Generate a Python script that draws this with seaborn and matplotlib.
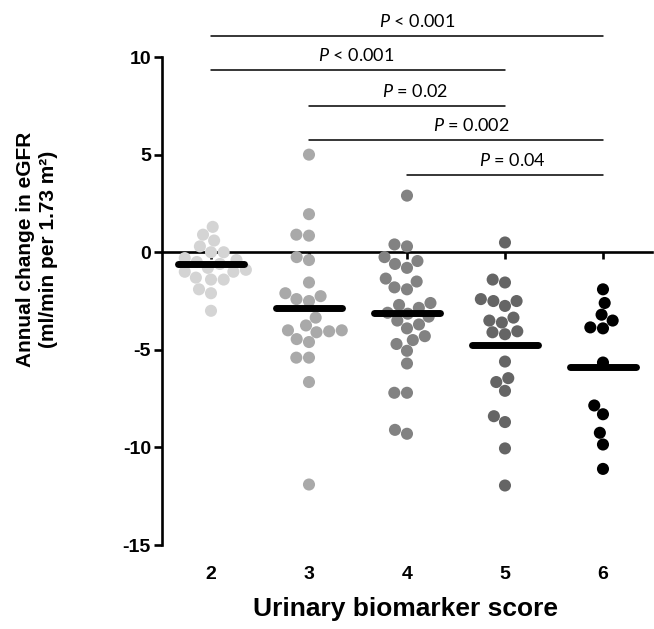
import matplotlib
matplotlib.use("Agg")
import matplotlib.pyplot as plt
import seaborn as sns
import pandas as pd

# urinary biomarker score groups and annual eGFR change per patient
scores = [2, 3, 4, 5, 6]
change_s2 = [1.3, 0.9, 0.6, 0.3, 0.0, 0.0, -0.3, -0.4, -0.5, -0.6, -0.8, -0.9,
             -1.0, -1.0, -1.3, -1.4, -1.4, -1.9, -2.1, -3.0]
change_s3 = [5.0, 1.95, 0.9, 0.85, -0.25, -0.4, -1.55, -2.1, -2.25, -2.4, -2.5,
             -3.35, -3.75, -4.0, -4.0, -4.05, -4.1, -4.45, -4.6, -5.4, -5.4,
             -6.65, -11.9]
change_s4 = [2.9, 0.4, 0.3, -0.25, -0.45, -0.6, -0.8, -1.35, -1.5, -1.8, -1.9,
             -2.6, -2.7, -2.85, -3.1, -3.15, -3.3, -3.5, -3.7, -3.9, -4.3, -4.5,
             -4.7, -5.05, -5.7, -7.2, -7.2, -9.1, -9.3]
change_s5 = [0.5, -1.4, -1.55, -2.4, -2.5, -2.5, -2.75, -3.35, -3.5, -3.6, -4.05,
             -4.1, -4.2, -5.6, -6.45, -6.65, -7.1, -8.4, -8.7, -10.05, -11.95]
change_s6 = [-1.9, -2.6, -3.2, -3.5, -3.85, -3.9, -5.65, -7.85, -8.3, -9.25,
             -9.85, -11.1]
group_means = [-0.6, -2.85, -3.1, -4.75, -5.9]

# pairwise comparisons
comp_from = [2, 2, 3, 3, 4]
comp_to = [6, 5, 5, 6, 6]
comp_p = ["< 0.001", "< 0.001", "= 0.02", "= 0.002", "= 0.04"]

colors = {2: "#d4d4d4", 3: "#a9a9a9", 4: "#828282", 5: "#656565", 6: "#000000"}
bar_heights = [11.1, 9.35, 7.5, 5.75, 3.95]
label_shift = [0.1, -0.02, 0.08, 0.16, 0.08]

groups = [change_s2, change_s3, change_s4, change_s5, change_s6]
df = pd.concat([pd.DataFrame({"score": s, "change": g}) for s, g in zip(scores, groups)],
               ignore_index=True)

sns.set_theme(style="ticks", rc={"axes.edgecolor": "black", "text.color": "black",
                                 "xtick.color": "black", "ytick.color": "black",
                                 "axes.labelcolor": "black"})
plt.rcParams['font.family'] = ['Liberation Sans', 'DejaVu Sans']
plt.rcParams['axes.unicode_minus'] = False
plt.rcParams['mathtext.fontset'] = 'custom'
plt.rcParams['mathtext.it'] = 'Lato:italic'
plt.rcParams['mathtext.rm'] = 'Lato'

fig = plt.figure(figsize=(6.54, 6.29), dpi=100)
ax = fig.add_axes([0.2477, 0.1335, 0.7492, 0.7758])

sns.swarmplot(data=df, x="score", y="change", hue="score", order=scores,
              palette=colors, size=8.7, linewidth=0, legend=False, ax=ax, zorder=2)

xs = list(range(len(scores)))
hl = ax.hlines(group_means, [x - 0.34 for x in xs], [x + 0.34 for x in xs],
               color="black", linewidth=5, zorder=3)
hl.set_capstyle("round")

ax.set_xlim(-0.5, 4.5)
ax.set_ylim(-15, 10)
ax.set_yticks([-15, -10, -5, 0, 5, 10])
sns.despine(ax=ax)
ax.spines['left'].set_linewidth(1.9)
ax.spines['bottom'].set_position(('data', 0))
ax.spines['bottom'].set_linewidth(1.9)
ax.spines['bottom'].set_zorder(1)
ax.tick_params(axis='y', length=6, width=1.9, labelsize=14, pad=2)
ax.tick_params(axis='x', length=5, width=1.9, labelbottom=False)
for t in ax.get_yticklabels():
    t.set_fontweight('bold')

sec = ax.secondary_xaxis('bottom')
sec.set_xticks(xs)
sec.set_xticklabels([str(s) for s in scores], fontweight='bold', fontsize=14)
sec.spines['bottom'].set_visible(False)
sec.tick_params(length=0, pad=15)

ax.set_xlabel("")
ax.set_ylabel("")
fig.text(0.62, 0.032, "Urinary biomarker score", ha="center", va="center",
         fontsize=19, fontweight="bold", transform=fig.transFigure)
ax.text(-0.255, 0.605, "Annual change in eGFR\n(ml/min per 1.73 m²)", rotation=90,
        ha="center", va="center", fontsize=15, fontweight="bold",
        linespacing=1.3, transform=ax.transAxes)

for a, b, p, h, sh in zip(comp_from, comp_to, comp_p, bar_heights, label_shift):
    x1, x2 = scores.index(a), scores.index(b)
    ax.plot([x1, x2], [h, h], color="black", linewidth=1.1, clip_on=False)
    ax.text((x1 + x2) / 2 + sh, h + 0.3, r"$P$ " + p, ha="center", va="bottom",
            fontsize=13, fontfamily="Lato", clip_on=False)

fig.savefig("out.png", dpi=100)
